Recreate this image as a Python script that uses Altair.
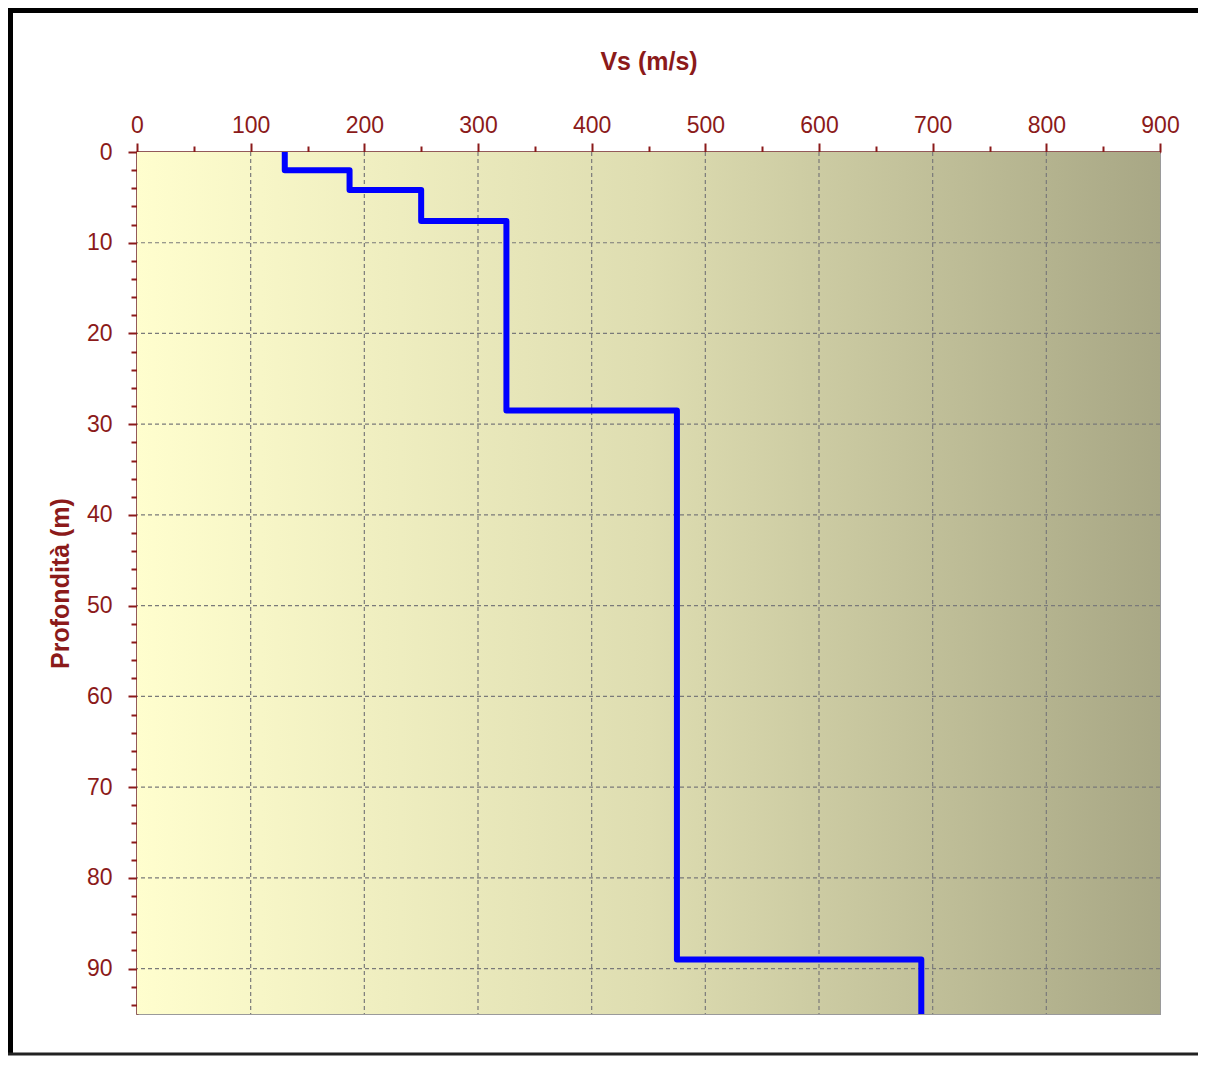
import altair as alt
import pandas as pd

# Vs profile (step function): velocity per layer and layer boundaries (depth, m)
vs_values = [130, 187, 250, 325, 475, 690]
depth_top = [0, 2, 4.2, 7.6, 28.5, 89]
depth_bottom = [2, 4.2, 7.6, 28.5, 89, 95]

x_ticks = list(range(0, 901, 50))
y_ticks = list(range(0, 95, 2))
x_grid = [100, 200, 300, 400, 500, 600, 700, 800]
y_grid = [10, 20, 30, 40, 50, 60, 70, 80, 90]

rows = []
i = 0
for v, t, b in zip(vs_values, depth_top, depth_bottom):
    rows.append({"vs": v, "depth": t, "order": i}); i += 1
    rows.append({"vs": v, "depth": b, "order": i}); i += 1
df = pd.DataFrame(rows)

RED = "#8B1A1A"
FONT = "Liberation Sans"

x_scale = alt.Scale(domain=[0, 900], nice=False, zero=False)
y_scale = alt.Scale(domain=[0, 95], reverse=True, nice=False)

x_axis = alt.Axis(
    orient="top", title="Vs (m/s)", values=x_ticks,
    labelExpr="datum.value % 100 === 0 ? datum.label : ''",
    labelOverlap=False, labelFlush=False,
    labelColor=RED, labelFont=FONT, labelFontSize=23, labelPadding=6,
    titleColor=RED, titleFont=FONT, titleFontSize=25, titleFontWeight="bold",
    titlePadding=40,
    domainColor=RED, domainWidth=2, tickColor=RED, tickWidth=2,
    tickSize={"condition": {"test": "datum.value % 100 === 0", "value": 9}, "value": 6},
    grid=False,
)
y_axis = alt.Axis(
    orient="left", title="Profondità (m)", values=y_ticks,
    labelExpr="datum.value % 10 === 0 ? datum.label : ''",
    labelOverlap=False, labelFlush=False,
    labelColor=RED, labelFont=FONT, labelFontSize=23, labelPadding=16,
    titleColor=RED, titleFont=FONT, titleFontSize=25, titleFontWeight="bold",
    titlePadding=13,
    domainColor=RED, domainWidth=2, tickColor=RED, tickWidth=2,
    tickSize={"condition": {"test": "datum.value % 10 === 0", "value": 9}, "value": 6},
    grid=False,
)

frame_df = pd.DataFrame({"k": [0]})

background = alt.Chart(frame_df).mark_rect(
    color=alt.LinearGradient(
        gradient="linear", x1=0, x2=1, y1=0, y2=0,
        stops=[alt.GradientStop(offset=0, color="#FFFECE"),
               alt.GradientStop(offset=0.5, color="#DEDDB1"),
               alt.GradientStop(offset=1, color="#A8A785")],
    )
).encode(x=alt.value(0), x2=alt.value("width"), y=alt.value(0), y2=alt.value("height"))

grid_v = alt.Chart(pd.DataFrame({"vs": x_grid})).mark_rule(
    color="#7a7a7a", strokeWidth=1.2, strokeDash=[4, 3]
).encode(x=alt.X("vs:Q", scale=x_scale, axis=x_axis))

grid_h = alt.Chart(pd.DataFrame({"depth": y_grid})).mark_rule(
    color="#7a7a7a", strokeWidth=1.2, strokeDash=[4, 3]
).encode(y=alt.Y("depth:Q", scale=y_scale, axis=y_axis))

line = alt.Chart(df).mark_line(color="#0000FF", strokeWidth=6, strokeJoin="round", clip=True).encode(
    x=alt.X("vs:Q", scale=x_scale, axis=x_axis),
    y=alt.Y("depth:Q", scale=y_scale, axis=y_axis),
    order="order:Q",
)

top_border = alt.Chart(frame_df).mark_rule(color="black", strokeWidth=5).encode(
    x=alt.value(-129), x2=alt.value(1061), y=alt.value(-141.5))
left_border = alt.Chart(frame_df).mark_rule(color="black", strokeWidth=5).encode(
    x=alt.value(-126.5), y=alt.value(-144), y2=alt.value(903))
bottom_border = alt.Chart(frame_df).mark_rule(color="#222222", strokeWidth=3).encode(
    x=alt.value(-129), x2=alt.value(1061), y=alt.value(902))

chart = alt.layer(background, grid_v, grid_h, line, top_border, left_border, bottom_border).properties(
    width=1023, height=862,
    autosize=alt.AutoSizeParams(type="none"),
    padding={"left": 129, "top": 144, "right": 38, "bottom": 44},
    background="white",
).configure_view(
    stroke="#9a9a9a", strokeWidth=2,
)

chart.save("out.html", embed_options={"renderer": "svg", "actions": False})
